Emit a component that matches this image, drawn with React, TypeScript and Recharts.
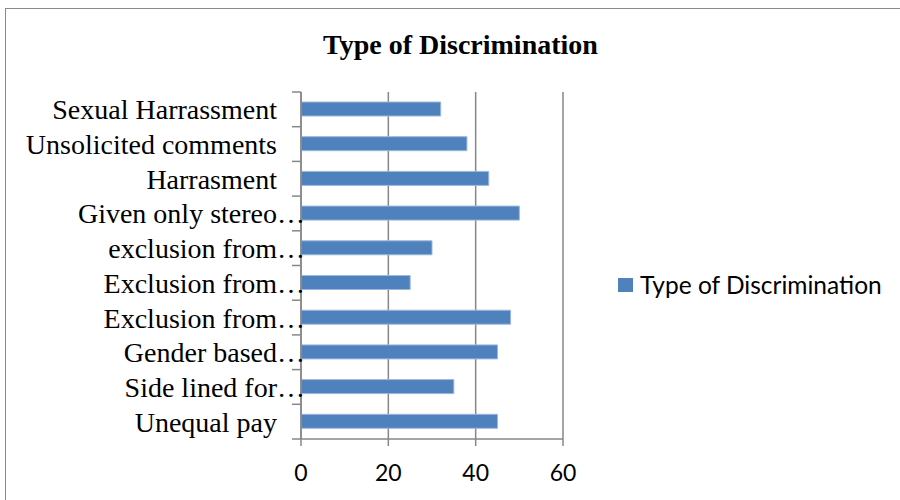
import React from 'react';
import { BarChart, Bar, XAxis, YAxis, CartesianGrid, Legend } from 'recharts';

// Categories from top to bottom, as shown on the vertical axis
const categories: string[] = [
  'Sexual Harrassment',
  'Unsolicited comments',
  'Harrasment',
  'Given only stereo…',
  'exclusion from…',
  'Exclusion from…',
  'Exclusion from…',
  'Gender based…',
  'Side lined for…',
  'Unequal pay',
];

const discriminationCounts: number[] = [32, 38, 43, 50, 30, 25, 48, 45, 35, 45];

const xTicks: number[] = [0, 20, 40, 60];

const seriesName = 'Type of Discrimination';

// unique key per row so repeated labels stay separate categories
const data = categories.map((name, i) => ({
  key: i,
  name,
  value: discriminationCounts[i],
}));

const AXIS_GRAY = '#878787';
const BAR_BLUE = '#4F81BD';

const CategoryTick = (props: any) => {
  const { x, y, payload, index } = props;
  const half = payload && payload.offset ? payload.offset : 17.35;
  const label = categories[Number(payload.value)] ?? '';
  const truncated = label.endsWith('…');
  const body = truncated ? label.slice(0, -1) : label;
  return (
    <g>
      <line x1={x - 9} x2={x} y1={y - half} y2={y - half} stroke={AXIS_GRAY} strokeWidth={1.5} />
      {index === categories.length - 1 && (
        <line x1={x - 9} x2={x} y1={y + half} y2={y + half} stroke={AXIS_GRAY} strokeWidth={1.5} />
      )}
      <text
        x={x - 24}
        y={y + 10}
        textAnchor="end"
        fontFamily="'Liberation Serif', 'Times New Roman', serif"
        fontSize={28}
        fill="#000"
      >
        {body}
      </text>
      {truncated && (
        <text
          x={x - 24}
          y={y + 10}
          textAnchor="start"
          fontFamily="'Liberation Serif', 'Times New Roman', serif"
          fontSize={28}
          fill="#000"
        >
          …
        </text>
      )}
    </g>
  );
};

const LegendContent = () => (
  <div style={{ display: 'flex', alignItems: 'center' }}>
    <div style={{ width: 15, height: 14, background: BAR_BLUE, marginRight: 7 }} />
    <span
      style={{
        fontFamily: 'Lato, sans-serif',
        fontSize: 24.5,
        color: '#000',
        whiteSpace: 'nowrap',
        lineHeight: '28px',
      }}
    >
      {seriesName}
    </span>
  </div>
);

export default function App() {
  return (
    <div
      style={{
        position: 'absolute',
        left: 0,
        top: 0,
        width: 900,
        height: 500,
        overflow: 'hidden',
        background: '#fff',
      }}
    >
      <div
        style={{
          position: 'absolute',
          left: 5,
          top: 8,
          width: 1000,
          height: 600,
          borderLeft: '1.5px solid #8a8a8a',
          borderTop: '1.5px solid #8a8a8a',
        }}
      />
      <div
        style={{
          position: 'absolute',
          left: 0,
          top: 27,
          width: 921,
          textAlign: 'center',
          fontFamily: "'Liberation Serif', 'Times New Roman', serif",
          fontWeight: 'bold',
          fontSize: 28,
          lineHeight: '36px',
          color: '#000',
        }}
      >
        {seriesName}
      </div>
      <div style={{ position: 'absolute', left: 0, top: 0 }}>
        <BarChart
          width={900}
          height={500}
          data={data}
          layout="vertical"
          margin={{ top: 92, right: 337, bottom: 21, left: 0 }}
          barCategoryGap="30%"
        >
          <CartesianGrid horizontal={false} vertical stroke={AXIS_GRAY} strokeWidth={1.5} />
          <XAxis
            type="number"
            domain={[0, 60]}
            ticks={xTicks}
            interval={0}
            height={40}
            axisLine={{ stroke: AXIS_GRAY, strokeWidth: 1.5 }}
            tickLine={{ stroke: AXIS_GRAY, strokeWidth: 1.5 }}
            tickSize={7}
            tickMargin={19}
            tick={{ fontFamily: 'Lato, sans-serif', fontSize: 23, fill: '#000' }}
          />
          <YAxis
            type="category"
            dataKey="key"
            width={301}
            interval={0}
            axisLine={{ stroke: AXIS_GRAY, strokeWidth: 1.5 }}
            tickLine={false}
            tickSize={0}
            tickMargin={0}
            tick={<CategoryTick />}
          />
          <Bar
            dataKey="value"
            name={seriesName}
            fill={BAR_BLUE}
            stroke="#9db8db"
            strokeWidth={1}
            barSize={14}
            isAnimationActive={false}
          />
          <Legend
            layout="horizontal"
            align="center"
            verticalAlign="middle"
            wrapperStyle={{ position: 'absolute', left: 618, top: 271, width: 280 }}
            content={<LegendContent />}
          />
        </BarChart>
      </div>
    </div>
  );
}
